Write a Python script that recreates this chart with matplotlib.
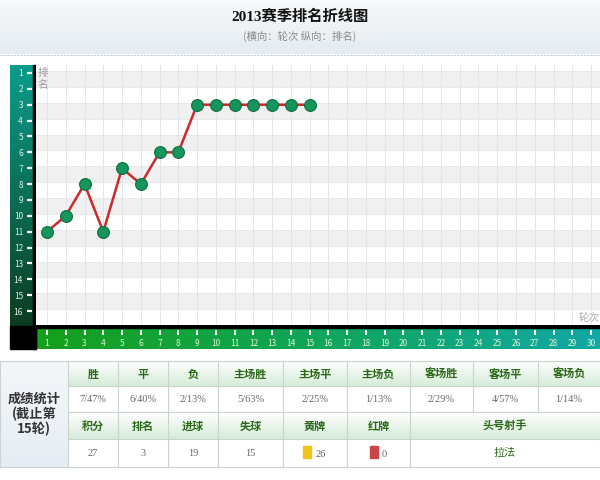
import numpy as np
import matplotlib.pyplot as plt
from matplotlib.patches import Rectangle
from matplotlib.colors import LinearSegmentedColormap

plt.rcParams['font.family'] = ['Noto Sans CJK SC', 'DejaVu Sans']

# dados
rodadas = list(range(1, 16))
posicoes = [11, 10, 8, 11, 7, 8, 6, 6, 3, 3, 3, 3, 3, 3, 3]
ticks_y = list(range(1, 17))
ticks_x = list(range(1, 31))

titulo = '2013赛季排名折线图'
subtitulo = '(横向：轮次 纵向：排名)'

cab1 = ['胜', '平', '负', '主场胜', '主场平', '主场负', '客场胜', '客场平', '客场负']
val1 = ['7/47%', '6/40%', '2/13%', '5/63%', '2/25%', '1/13%', '2/29%', '4/57%', '1/14%']
cab2 = ['积分', '排名', '进球', '失球', '黄牌', '红牌', '头号射手']
val2 = ['27', '3', '19', '15', '26', '0', '拉法']

W, H = 600, 481

def px(x0, y0, x1, y1):
    return [x0 / W, 1 - y1 / H, (x1 - x0) / W, (y1 - y0) / H]

fig = plt.figure(figsize=(6, 4.81), dpi=100)
fig.patch.set_facecolor('white')

# camada de fundo em pixels
bg = fig.add_axes([0, 0, 1, 1])
bg.set_xlim(0, W)
bg.set_ylim(H, 0)
bg.axis('off')

# cabeçalho com gradiente
grad = np.linspace(0, 1, 64).reshape(-1, 1)
cm_head = LinearSegmentedColormap.from_list('h', ['#f8fafb', '#e4ebf1'])
bg.imshow(grad, extent=(0, W, 55, 0), cmap=cm_head, aspect='auto', zorder=0)
bg.plot([0, W], [55.5, 55.5], color='#c8ccd0', lw=0.8, ls=(0, (2, 1)), zorder=1)
bg.text(300, 17, titulo, ha='center', va='center', fontsize=11, fontweight='bold',
        color='#111111', family=['Liberation Serif', 'Noto Sans CJK SC'])
bg.text(300, 36, subtitulo, ha='center', va='center', fontsize=7.5, color='#888888')

# barra esquerda (gradiente teal -> verde escuro)
cm_left = LinearSegmentedColormap.from_list('l', ['#0c9c8c', '#0b6e55', '#0a3c22'])
bg.imshow(grad, extent=(10, 34, 327, 66), cmap=cm_left, aspect='auto', zorder=1)
# barra de baixo (verde -> teal)
gradx = np.linspace(0, 1, 64).reshape(1, -1)
cm_bot = LinearSegmentedColormap.from_list('b', ['#15a01c', '#10a65a', '#12a8a4'])
bg.imshow(gradx, extent=(36, W, 350, 329), cmap=cm_bot, aspect='auto', zorder=1)
bg.add_patch(Rectangle((10, 327), 26, 23, color='black', zorder=2))
bg.add_patch(Rectangle((33, 66), 3, 284, color='black', zorder=2))
bg.add_patch(Rectangle((36, 326), W - 36, 3, color='black', zorder=2))

# gráfico principal
ax = fig.add_axes(px(36, 66, 600, 326))
x_esq = 1 - (47 - 36) / 18.76
x_dir = 1 + (600 - 47) / 18.76
y_top = 1 - (74 - 66) / 15.87
y_bot = 1 + (326 - 74) / 15.87
ax.set_xlim(x_esq, x_dir)
ax.set_ylim(y_bot, y_top)
ax.set_facecolor('white')
for k in ticks_y:
    if k % 2 == 1:
        ax.axhspan(k - 0.12, k + 0.88, color='#f0f0f0', zorder=0, lw=0)
for k in ticks_y:
    ax.axhline(k - 0.12, color='#e6e6e6', lw=0.6, zorder=0.5)
for k in ticks_x:
    ax.axvline(k, color='#e2e2e2', lw=0.6, zorder=0.5)
ax.plot(rodadas, posicoes, color='#cc2a2a', lw=1.8, zorder=2)
ax.plot(rodadas, posicoes, 'o', ms=8.5, mfc='#14955a', mec='#0e6e40', mew=0.8, zorder=3)
ax.set_xticks([])
ax.set_yticks([])
for s in ax.spines.values():
    s.set_visible(False)
ax.text(x_esq + 0.1, 0.95, '排', ha='left', va='center', fontsize=7.5, color='#999999')
ax.text(x_esq + 0.1, 1.72, '名', ha='left', va='center', fontsize=7.5, color='#999999')
ax.text(x_dir - 0.05, 16.4, '轮次', ha='right', va='center', fontsize=7.5, color='#aaaaaa')

# rótulos do eixo y (na barra esquerda)
axl = fig.add_axes(px(10, 66, 36, 326))
axl.set_xlim(10, 36)
axl.set_ylim(y_bot, y_top)
axl.axis('off')
for k in ticks_y:
    axl.text(23, k, str(k), ha='right', va='center', fontsize=6, color='#d8f0e8')
    axl.plot([27, 32], [k, k], color='white', lw=1.6, solid_capstyle='butt')

# rótulos do eixo x (na barra de baixo)
axb = fig.add_axes(px(36, 329, 600, 350))
axb.set_xlim(x_esq, x_dir)
axb.set_ylim(350, 329)
axb.axis('off')
for k in ticks_x:
    axb.plot([k, k], [331, 336], color='white', lw=1.4, solid_capstyle='butt')
    axb.text(k, 343.5, str(k), ha='center', va='center', fontsize=6, color='#d8f5d0')

# tabela de estatísticas
cols = [68, 118, 168, 218, 283, 347, 410, 473, 538, 600]
rows = [362, 387, 413, 440, 468]
cm_cell = LinearSegmentedColormap.from_list('c', ['#ffffff', '#d6ecd9'])
cm_side = LinearSegmentedColormap.from_list('s', ['#f4f7fa', '#e5edf4'])
linha = '#c9d3cf'
serif = ['Liberation Serif', 'Noto Sans CJK SC']

bg.imshow(grad, extent=(0, 68, rows[-1], rows[0]), cmap=cm_side, aspect='auto', zorder=1)
bg.text(34, 414, '成绩统计\n(截止第\n15轮)', ha='center', va='center', fontsize=9.5,
        fontweight='bold', color='#333333', linespacing=1.1)

for r0, r1 in [(rows[0], rows[1]), (rows[2], rows[3])]:
    bg.imshow(grad, extent=(68, W, r1, r0), cmap=cm_cell, aspect='auto', zorder=1)

for i, c in enumerate(cab1):
    xc = (cols[i] + cols[i + 1]) / 2
    bg.text(xc, 374.5, c, ha='center', va='center', fontsize=8, fontweight='bold',
            color='#2a6818', zorder=3)
    bg.text(xc, 400, val1[i], ha='center', va='center', fontsize=7.5, color='#666666',
            family=serif, zorder=3)

cols2 = cols[:7] + [cols[9]]
for i, c in enumerate(cab2):
    xc = (cols2[i] + cols2[i + 1]) / 2
    bg.text(xc, 426.5, c, ha='center', va='center', fontsize=8, fontweight='bold',
            color='#2a6818', zorder=3)
    if c == '黄牌':
        bg.add_patch(Rectangle((303, 447), 8, 12, color='#f0c419', zorder=3))
        bg.text(316, 455, val2[i], ha='left', va='center', fontsize=7.5, color='#666666',
                family=serif, zorder=3)
    elif c == '红牌':
        bg.add_patch(Rectangle((370, 447), 8, 12, color='#cc4444', zorder=3))
        bg.text(382, 455, val2[i], ha='left', va='center', fontsize=7.5, color='#666666',
                family=serif, zorder=3)
    elif c == '头号射手':
        bg.text(xc, 453, val2[i], ha='center', va='center', fontsize=8, color='#2a6818',
                zorder=3)
    else:
        bg.text(xc, 454, val2[i], ha='center', va='center', fontsize=7.5, color='#666666',
                family=serif, zorder=3)

# linhas da tabela
for y in rows:
    bg.plot([0 if y in (rows[0], rows[-1]) else 68, W], [y, y], color=linha, lw=0.8, zorder=2)
for x in cols:
    bg.plot([x, x], [rows[0], rows[2]], color=linha, lw=0.8, zorder=2)
for x in cols2:
    bg.plot([x, x], [rows[2], rows[-1]], color=linha, lw=0.8, zorder=2)
bg.plot([0, 0], [rows[0], rows[-1]], color=linha, lw=0.8, zorder=2)

fig.savefig('out.png', dpi=100)
